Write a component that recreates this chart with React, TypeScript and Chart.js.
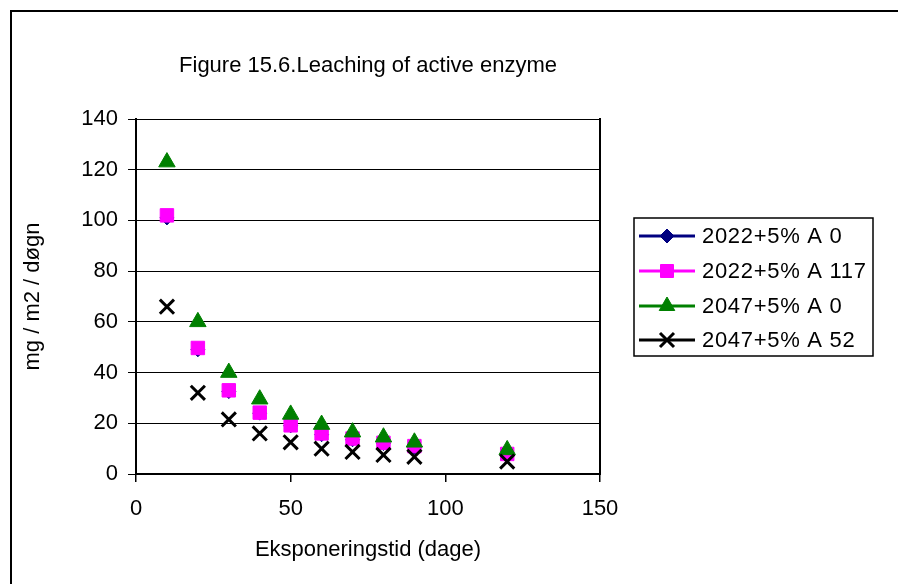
import React, { useEffect, useRef } from 'react';
import { Chart, registerables } from 'chart.js';

Chart.register(...registerables);

const chartTitle = 'Figure 15.6.Leaching of active enzyme';
const xAxisTitle = 'Eksponeringstid (dage)';
const yAxisTitle = 'mg / m2 / døgn';

const days = [10, 20, 30, 40, 50, 60, 70, 80, 90, 120];
const s2022A0 = [101, 49, 32.5, 24, 19, 15.5, 13.5, 12, 10.5, 7.5];
const s2022A117 = [102, 49.7, 33, 24.2, 19.2, 16, 14, 12.3, 11, 7.9];
const s2047A0 = [123, 60, 40, 29.5, 23.5, 19.5, 16.5, 14.5, 12.5, 9.5];
const s2047A52 = [66, 32, 21.5, 16, 12.5, 10, 8.7, 7.5, 6.8, 4.9];

const seriesLabels = ['2022+5% A 0', '2022+5% A 117', '2047+5% A 0', '2047+5% A 52'];
const seriesColors = ['#000080', '#FF00FF', '#008000', '#000000'];
const seriesStyles = ['rectRot', 'rect', 'triangle', 'crossRot'];
const seriesValues = [s2022A0, s2022A117, s2047A0, s2047A52];

const xMin = 0, xMax = 150, xStep = 50;
const yMin = 0, yMax = 140, yStep = 20;

const FONT = '"Liberation Sans", Arial, sans-serif';
const FS = 22;

function drawMarker(ctx: CanvasRenderingContext2D, style: string, color: string, x: number, y: number) {
  ctx.save();
  ctx.fillStyle = color;
  ctx.strokeStyle = color;
  ctx.lineWidth = 1;
  ctx.beginPath();
  if (style === 'rectRot') {
    const r = 7;
    ctx.moveTo(x, y - r); ctx.lineTo(x + r, y); ctx.lineTo(x, y + r); ctx.lineTo(x - r, y); ctx.closePath();
    ctx.fill(); ctx.stroke();
  } else if (style === 'rect') {
    const s = 6.5;
    ctx.rect(x - s, y - s, 2 * s, 2 * s);
    ctx.fill(); ctx.stroke();
  } else if (style === 'triangle') {
    const r = 9;
    ctx.moveTo(x, y - r);
    ctx.lineTo(x + r * 0.866, y + r / 2);
    ctx.lineTo(x - r * 0.866, y + r / 2);
    ctx.closePath();
    ctx.fill(); ctx.stroke();
  } else {
    const d = 7;
    ctx.lineWidth = 3;
    ctx.moveTo(x - d, y - d); ctx.lineTo(x + d, y + d);
    ctx.moveTo(x + d, y - d); ctx.lineTo(x - d, y + d);
    ctx.stroke();
  }
  ctx.restore();
}

const decorPlugin = {
  id: 'decor',
  afterDraw(chart: any) {
    const { ctx, chartArea } = chart;
    ctx.save();
    // outer frame
    ctx.strokeStyle = '#000';
    ctx.lineWidth = 2;
    ctx.strokeRect(11, 11, 940, 640);
    // plot area right border
    ctx.beginPath();
    ctx.moveTo(chartArea.right, chartArea.top - 1);
    ctx.lineTo(chartArea.right, chartArea.bottom + 1);
    ctx.stroke();
    // title
    ctx.fillStyle = '#000';
    ctx.font = `${FS}px ${FONT}`;
    ctx.textAlign = 'center';
    ctx.textBaseline = 'alphabetic';
    ctx.fillText(chartTitle, (chartArea.left + chartArea.right) / 2, 72);
    // legend
    const lx = 634, ly = 218, lw = 239, lh = 138;
    ctx.lineWidth = 1.5;
    ctx.strokeRect(lx, ly, lw, lh);
    const rows = [236, 271, 306, 340];
    ctx.textAlign = 'left';
    ctx.textBaseline = 'middle';
    try { (ctx as any).letterSpacing = '0.7px'; } catch (e) { /* ignore */ }
    seriesLabels.forEach((label, i) => {
      const y = rows[i];
      ctx.strokeStyle = seriesColors[i];
      ctx.lineWidth = 3;
      ctx.beginPath();
      ctx.moveTo(639, y);
      ctx.lineTo(695, y);
      ctx.stroke();
      drawMarker(ctx, seriesStyles[i], seriesColors[i], 667, y);
      ctx.fillStyle = '#000';
      ctx.fillText(label, 702, y + 1);
    });
    try { (ctx as any).letterSpacing = '0px'; } catch (e) { /* ignore */ }
    ctx.restore();
  },
};

export default function App() {
  const ref = useRef<HTMLCanvasElement | null>(null);

  useEffect(() => {
    document.body.style.margin = '0';
    const canvas = ref.current;
    if (!canvas) return;
    const datasets = seriesValues.map((vals, i) => ({
      label: seriesLabels[i],
      data: days.map((d, j) => ({ x: d, y: vals[j] })),
      showLine: false,
      pointStyle: seriesStyles[i],
      pointRadius: i === 0 ? 7 : i === 1 ? 9.5 : i === 2 ? 9.5 : 10,
      pointBorderWidth: i === 3 ? 3 : 1,
      backgroundColor: seriesColors[i],
      borderColor: seriesColors[i],
      order: 4 - i,
    }));
    const chart = new Chart(canvas, {
      type: 'scatter',
      data: { datasets },
      plugins: [decorPlugin],
      options: {
        animation: false,
        responsive: false,
        devicePixelRatio: 1,
        layout: { padding: { top: 119, right: 298, bottom: 0, left: 0 } },
        plugins: {
          legend: { display: false },
          title: { display: false },
          tooltip: { enabled: false },
        },
        scales: {
          x: {
            type: 'linear',
            min: xMin,
            max: xMax,
            afterFit: (s: any) => { s.height = 110; },
            ticks: {
              stepSize: xStep,
              color: '#000',
              padding: 14,
              maxRotation: 0,
              font: { family: FONT, size: FS },
            },
            grid: { drawOnChartArea: false, drawTicks: true, tickLength: 8, color: '#000', lineWidth: 1.5 },
            border: { display: true, color: '#000', width: 2 },
            title: {
              display: true,
              text: xAxisTitle,
              color: '#000',
              font: { family: FONT, size: FS },
              padding: { top: 0, bottom: 21 },
            },
          },
          y: {
            type: 'linear',
            min: yMin,
            max: yMax,
            afterFit: (s: any) => { s.width = 136; },
            ticks: {
              stepSize: yStep,
              color: '#000',
              padding: 10,
              font: { family: FONT, size: FS },
            },
            grid: { drawOnChartArea: true, drawTicks: true, tickLength: 8, color: '#000', lineWidth: 1 },
            border: { display: true, color: '#000', width: 2 },
            title: {
              display: true,
              text: yAxisTitle,
              color: '#000',
              font: { family: FONT, size: FS },
              padding: { top: 20, bottom: 0 },
            },
          },
        },
      },
    });
    return () => chart.destroy();
  }, []);

  return (
    <div style={{ width: 898, height: 584, background: '#fff' }}>
      <canvas ref={ref} width={898} height={584} style={{ display: 'block' }} />
    </div>
  );
}
